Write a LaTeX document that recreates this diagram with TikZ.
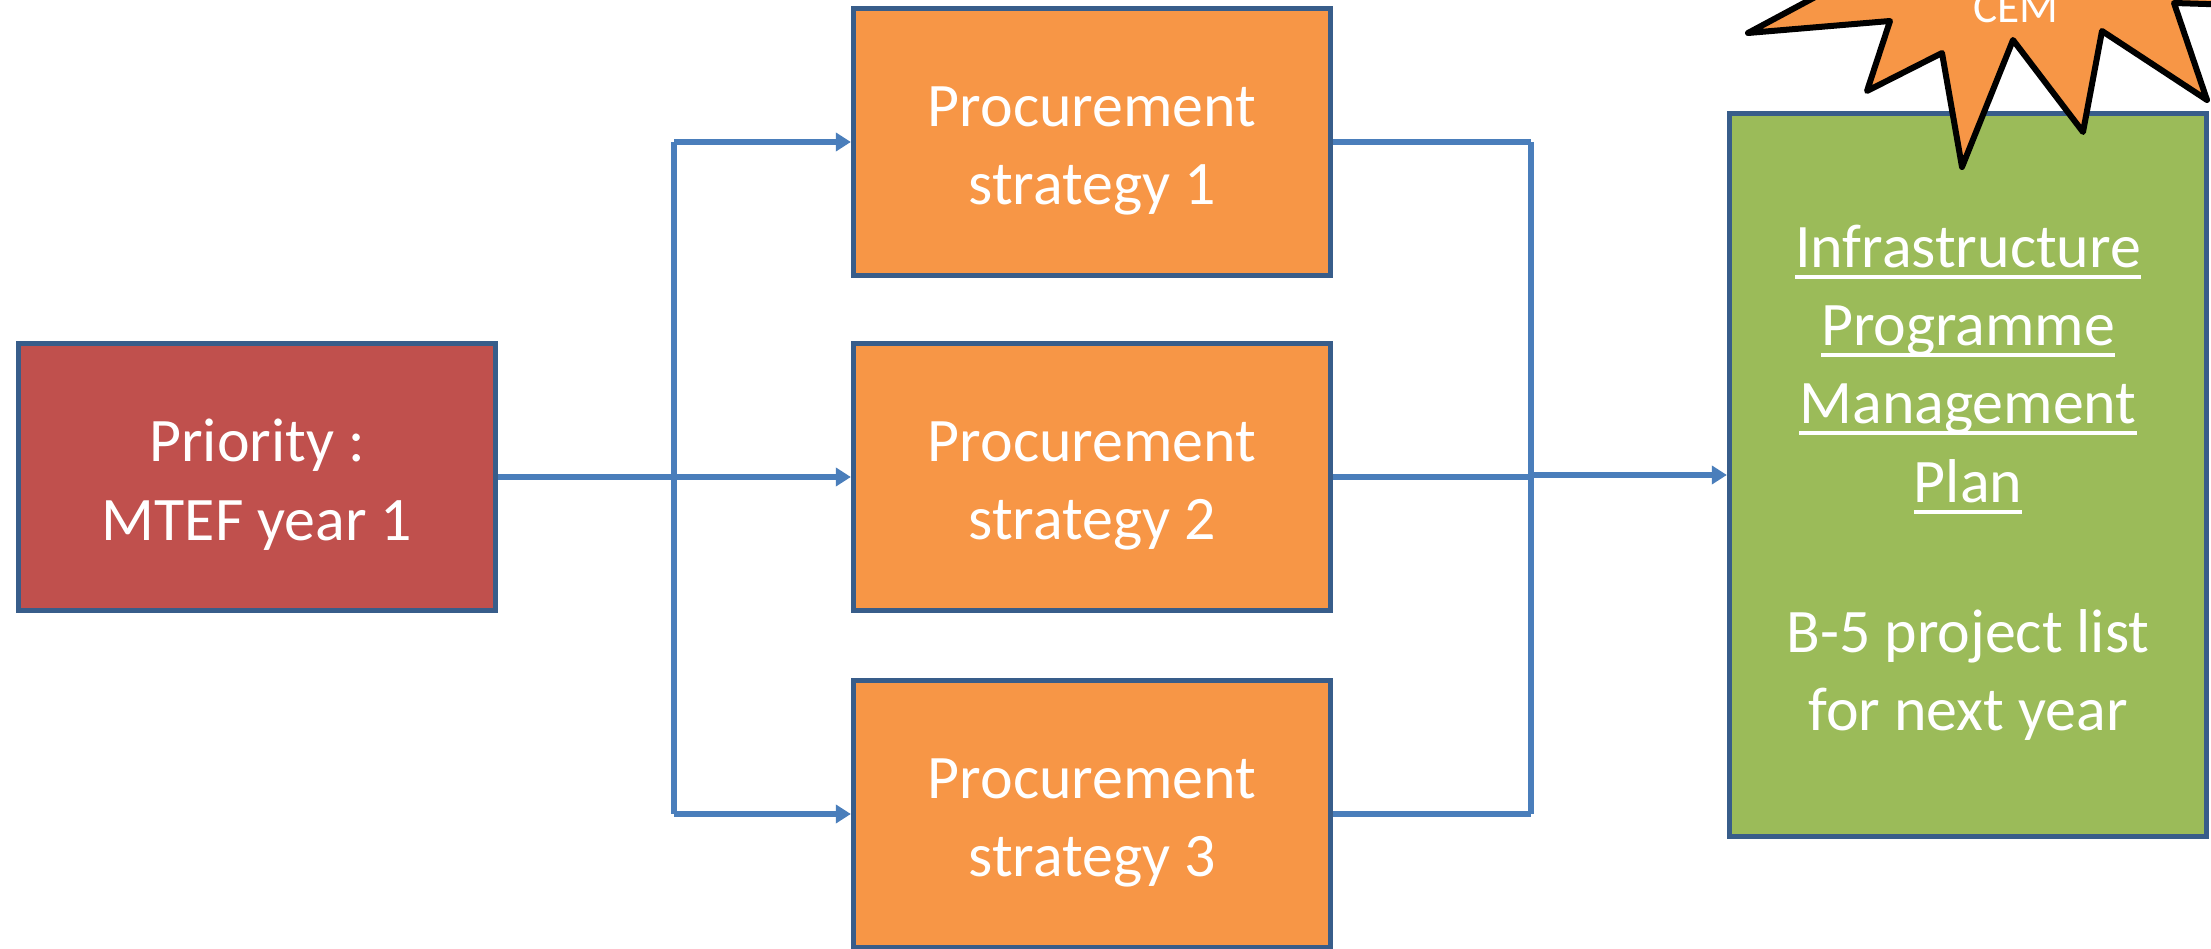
\documentclass[tikz,border=0pt]{standalone}
\usepackage{fontspec}
\setmainfont{Carlito}
\usetikzlibrary{arrows.meta}
\definecolor{boxline}{HTML}{385D8A}
\definecolor{connblue}{HTML}{4A7EBB}
\definecolor{prioRed}{HTML}{C0504D}
\definecolor{stratOrange}{HTML}{F79646}
\definecolor{planGreen}{HTML}{9BBB59}
% underline at a fixed depth below the baseline
\newcommand{\undl}[1]{\setbox0\hbox{#1}\rlap{\rule[-0.115cm]{\wd0}{0.04cm}}\box0}
% taller first line, pushes the text a little down
\newcommand{\tstr}{\rule{0pt}{0.58cm}}
\begin{document}
\begin{tikzpicture}[x=0.01cm,y=-0.01cm,
	box/.style={draw=boxline,line width=0.05cm,text=white,align=center,inner sep=0pt,
		minimum width=4.77cm,minimum height=2.67cm,font=\fontsize{17.6}{22.2}\selectfont},
	conn/.style={draw=connblue,line width=0.058cm},
	arr/.style={conn,-{Triangle[length=0.15cm,width=0.18cm]}}]
	\useasboundingbox (0,0) rectangle (2211,949);
	\clip (0,0) rectangle (2211,949);
	% boxes
	\node[box,fill=prioRed] (prio) at (257,477) {\tstr Priority :\\MTEF year 1};
	\node[box,fill=stratOrange] (ps1) at (1092,142) {\tstr Procurement\\strategy 1};
	\node[box,fill=stratOrange] (ps2) at (1092,477) {\tstr Procurement\\strategy 2};
	\node[box,fill=stratOrange] (ps3) at (1092,814) {\tstr Procurement\\strategy 3};
	\node[box,fill=planGreen,minimum height=7.23cm] (ipmp) at (1968,475)
		{\tstr\undl{Infrastructure}\\\undl{Programme}\\\undl{Management}\\\undl{Plan}\\[20.5pt]B-5 project list\\for next year};
	% buses
	\coordinate (lbus) at (674,0);
	\coordinate (rbus) at (1531,0);
	\draw[conn] (prio.east) -- (prio.east -| lbus);
	\draw[conn] (ps1.west -| lbus) -- (ps3.west -| lbus);
	\foreach \s in {ps1,ps2,ps3}{\draw[arr] (\s.west -| lbus) -- (\s.west);}
	\foreach \s in {ps1,ps2,ps3}{\draw[conn] (\s.east) -- (\s.east -| rbus);}
	\draw[conn] (ps1.east -| rbus) -- (ps3.east -| rbus);
	\draw[arr] (ipmp.west -| rbus) -- (ipmp.west);
	% CEM burst
	\filldraw[fill=stratOrange,draw=black,line width=0.06cm,line join=round]
		(1748,33) -- (1890,21) -- (1867,91) -- (1942,53) -- (1962,167) -- (2013,40)
		-- (2083,132) -- (2102,31) -- (2207,100) -- (2174,3) -- (2270,6) -- (2240,-80)
		-- (1920,-90) -- (1860,-27) -- cycle;
	\node[anchor=base,text=white,inner sep=0pt,font=\fontsize{12.9}{15}\selectfont] (cem) at (2016,23) {CEM};
\end{tikzpicture}
\end{document}
